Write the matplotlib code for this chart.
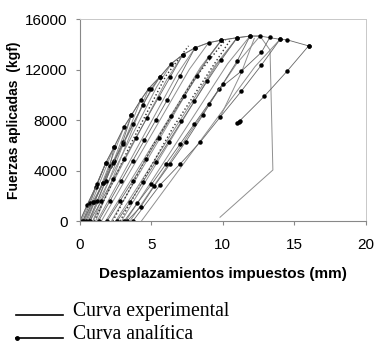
import matplotlib
matplotlib.use("Agg")
import matplotlib.pyplot as plt
from matplotlib.lines import Line2D

# Experimental reload curves (grey, no markers): x in mm, y in kgf
exp_x = [
    [0.0, 1.1, 1.8, 2.4, 3.1, 3.6, 4.25, 4.8, 5.6, 6.4, 7.2, 8.05, 9.0, 9.9, 11.0, 11.9, 12.6, 13.3, 13.5, 9.8],
    [0.1, 1.8], [0.3, 2.4], [0.5, 3.1], [0.7, 3.6], [0.9, 4.25], [1.1, 4.8],
    [0.3, 4.65, 5.6],
    [0.6, 5.36, 6.4],
    [0.9, 6.07, 7.2],
    [1.2, 6.82, 8.05],
    [1.5, 7.65, 9.0],
    [1.8, 8.44, 9.9],
    [2.2, 8.51, 9.9],
    [2.5, 9.47, 11.0],
    [2.9, 9.54, 11.0],
    [3.2, 10.33, 11.9],
    [3.5, 10.96, 12.6],
    [4.3, 12.25, 14.0],
    [9.8, 11.3, 12.2],
]
exp_y = [
    [0, 2700, 4600, 5900, 7500, 8400, 9600, 10500, 11450, 12500, 13200, 13750, 14150, 14360, 14550, 14680, 14680, 13570, 4050, 300],
    [0, 4600], [0, 5900], [0, 7500], [0, 8400], [0, 9600], [0, 10500],
    [0, 9730, 11450],
    [0, 10630, 12500],
    [0, 11220, 13200],
    [0, 11690, 13750],
    [0, 12030, 14150],
    [0, 12210, 14360],
    [0, 12210, 14360],
    [0, 12370, 14550],
    [0, 12370, 14550],
    [0, 12480, 14680],
    [0, 12480, 14680],
    [0, 12260, 14420],
    [8230, 11800, 14500],
]

# Analytical curves (line with dot markers)
ana_x = [
    [0.0, 0.5, 1.1, 1.8, 2.4, 3.1, 3.6, 4.25, 4.8, 5.6, 6.4, 7.2, 8.05, 9.0, 9.9, 11.0, 11.9, 12.6, 14.0, 14.5, 16.0],
    [16.0, 14.5, 12.9, 11.0, 11.1, 11.2],
    [3.7, 5.6, 7.0, 8.4, 9.8, 11.3, 12.7, 14.0],
    [3.3, 4.25, 5.2, 6.3, 7.4, 8.6, 9.7, 11.3, 12.7, 13.3],
    [0.2, 0.7, 1.2, 1.8],
    [0.4, 1.0, 1.6, 2.1, 2.4],
    [0.6, 1.2, 1.8, 2.4, 3.0, 3.6],
    [0.2, 0.9, 1.6, 2.3, 3.0, 3.7, 4.4, 5.0, 5.6],
    [0.7, 1.5, 2.3, 3.1, 3.9, 4.7, 5.5, 6.3, 7.2],
    [1.3, 2.1, 2.9, 3.7, 4.5, 5.3, 6.1, 7.0, 8.05],
    [1.9, 2.8, 3.7, 4.6, 5.5, 6.4, 7.3, 8.2, 9.0, 9.9],
    [2.6, 3.5, 4.4, 5.3, 6.2, 7.1, 8.0, 8.9, 9.9, 11.0],
    [3.1, 4.0, 5.0, 6.0, 7.0, 8.0, 9.0, 10.0, 11.0, 11.9],
]
ana_y = [
    [0, 1300, 2700, 4600, 5900, 7500, 8400, 9600, 10500, 11450, 12500, 13200, 13750, 14150, 14360, 14550, 14680, 14680, 14420, 14380, 13900],
    [13900, 11900, 9900, 7750, 7850, 7950],
    [0, 2860, 4520, 6250, 8230, 10320, 12380, 14420],
    [0, 1130, 2780, 4520, 6290, 8410, 10450, 11900, 13390, 14600],
    [0, 1400, 2900, 4600],
    [0, 1500, 3000, 4400, 5900],
    [0, 1600, 3200, 4800, 6300, 8400],
    [0, 1500, 3000, 4600, 6100, 7700, 9200, 10500, 11450],
    [0, 1600, 3300, 4900, 6600, 8200, 9800, 11400, 13200],
    [0, 1600, 3200, 4800, 6400, 8000, 9600, 11500, 13750],
    [0, 1600, 3200, 4900, 6600, 8300, 9900, 11500, 13000, 14360],
    [0, 1500, 3100, 4700, 6300, 7900, 9500, 11100, 12800, 14550],
    [0, 1400, 2900, 4500, 6100, 7700, 9300, 10900, 12700, 14680],
]

# finely dotted intermediate curves
dot_x = [[1.0, 3.5, 6.0, 7.6], [2.3, 5.0, 8.0, 10.2], [2.8, 6.5, 9.3, 10.6]]
dot_y = [[0, 6000, 11500, 13900], [0, 5800, 11300, 14400], [0, 7400, 12300, 14500]]

x_ticks = [0, 5, 10, 15, 20]
y_ticks = [0, 4000, 8000, 12000, 16000]

plt.rcParams['font.family'] = ['Liberation Sans', 'DejaVu Sans']

fig = plt.figure(figsize=(3.8, 3.47), dpi=100)
ax = fig.add_axes([0.2105, 0.363, 0.752, 0.581])

for xs, ys in zip(exp_x, exp_y):
    ax.plot(xs, ys, color='#8f8f8f', lw=0.7)
for xs, ys in zip(dot_x, dot_y):
    ax.plot(xs, ys, color='#333333', lw=1.0, ls=':')
for xs, ys in zip(ana_x, ana_y):
    ax.plot(xs, ys, color='#666666', lw=0.6, marker='o', ms=2.2,
            mfc='black', mec='black')

ax.set_xlim(0, 20)
ax.set_ylim(0, 16000)
ax.set_xticks(x_ticks)
ax.set_yticks(y_ticks)
ax.tick_params(labelsize=11, length=3, color='#888888', width=0.8)
ax.tick_params(axis='x', pad=9)
ax.tick_params(axis='y', pad=6)

for side in ['top', 'right']:
    ax.spines[side].set_color('#c8c8c8')
    ax.spines[side].set_linewidth(0.7)
for side in ['left', 'bottom']:
    ax.spines[side].set_color('#888888')
    ax.spines[side].set_linewidth(0.8)

ax.set_xlabel('Desplazamientos impuestos (mm)', fontsize=11, fontweight='bold', labelpad=11)
ax.set_ylabel('Fuerzas aplicadas  (kgf)', fontsize=10, fontweight='bold', labelpad=3)

# legend drawn below the chart
fig.add_artist(Line2D([0.042, 0.166], [0.0922, 0.0922], color='black', lw=1.2))
fig.add_artist(Line2D([0.042, 0.166], [0.0268, 0.0268], color='black', lw=1.2))
fig.add_artist(Line2D([0.044], [0.0268], marker='o', ms=2.5, color='black'))
fig.text(0.191, 0.1017, 'Curva experimental', family='Liberation Serif',
         fontsize=14.2, va='center', ha='left')
fig.text(0.191, 0.0346, 'Curva analítica', family='Liberation Serif',
         fontsize=14.2, va='center', ha='left')

fig.savefig('out.png', dpi=100)
